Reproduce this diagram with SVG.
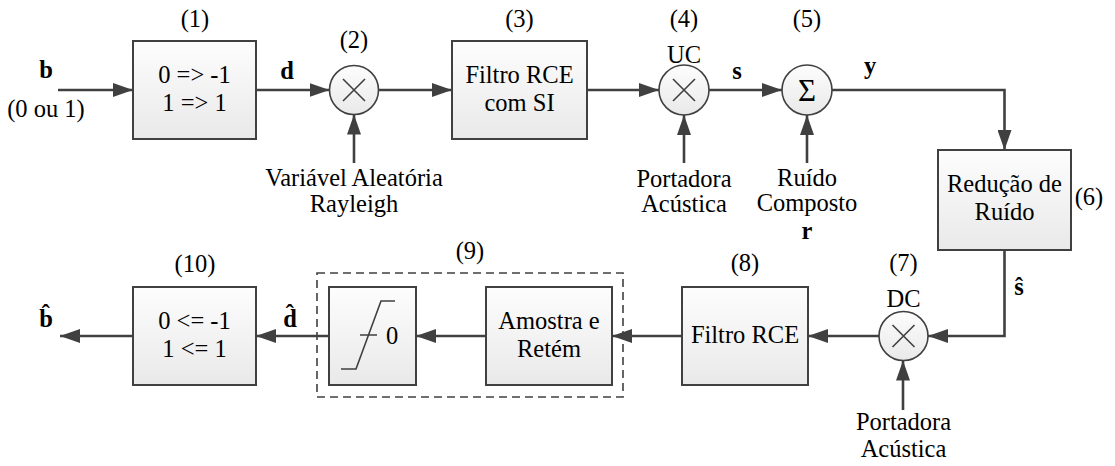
<svg xmlns="http://www.w3.org/2000/svg" width="1115" height="466" viewBox="0 0 1115 466">
<defs>
<linearGradient id="g" x1="0" y1="0" x2="0" y2="1">
<stop offset="0" stop-color="#fdfdfd"/>
<stop offset="1" stop-color="#e9e9e9"/>
</linearGradient>
<marker id="ah" markerUnits="userSpaceOnUse" markerWidth="20" markerHeight="14" refX="20" refY="7" orient="auto">
<path d="M0,0 L20,7 L0,14 z" fill="#404040"/>
</marker>
<style>
.box{fill:url(#g);stroke:#404040;stroke-width:2}
.circ{fill:url(#g);stroke:#404040;stroke-width:1.6}
.x{stroke:#404040;stroke-width:1.6;fill:none}
.c{fill:none;stroke:#404040;stroke-width:2.6;marker-end:url(#ah)}
text{font-family:'Liberation Serif','Times New Roman',serif;font-size:24.5px;fill:#000;text-anchor:middle}
text.b{font-weight:bold}
</style>
</defs>
<g id="connectors">
<path class="c" d="M58,90 H133"/>
<path class="c" d="M256,90 H329.5"/>
<path class="c" d="M378.5,90 H452"/>
<path class="c" d="M587,90 H659"/>
<path class="c" d="M709,90 H782"/>
<path class="c" d="M832,90 H1004.5 V150"/>
<path class="c" d="M354,163 V114.5"/>
<path class="c" d="M684,163 V115"/>
<path class="c" d="M807,163 V115"/>
<path class="c" d="M1004.5,250 V336 H928"/>
<path class="c" d="M879,336 H808"/>
<path class="c" d="M682,336 H612"/>
<path class="c" d="M486,336 H416"/>
<path class="c" d="M329,336 H256"/>
<path class="c" d="M133,336 H60"/>
<path class="c" d="M903,410 V360.5"/>
</g>

<g id="labels-signals">
<text class="b" x="46" y="78">b</text>
<text x="46" y="117">(0 ou 1)</text>
<text class="b" x="287" y="79">d</text>
<text class="b" x="737" y="79">s</text>
<text class="b" x="870" y="74">y</text>
<text class="b" x="1019" y="295">ŝ</text>
<text class="b" x="290" y="327">d̂</text>
<text class="b" x="46" y="327">b̂</text>
</g>

<g id="node1">
<rect class="box" x="133" y="41" width="123" height="98"/>
<text x="195" y="27">(1)</text>
<text x="194.5" y="83">0 =&gt; -1</text>
<text x="194.5" y="111">1 =&gt; 1</text>
</g>

<g id="node2">
<circle class="circ" cx="354" cy="90" r="24.5"/>
<path class="x" d="M343,79 L365,101 M365,79 L343,101"/>
<text x="354" y="48">(2)</text>
<text x="354" y="186">Variável Aleatória</text>
<text x="354" y="212">Rayleigh</text>
</g>

<g id="node3">
<rect class="box" x="452" y="41" width="135" height="98"/>
<text x="519.5" y="27">(3)</text>
<text x="519.5" y="83">Filtro RCE</text>
<text x="519.5" y="111">com SI</text>
</g>

<g id="node4">
<circle class="circ" cx="684" cy="90" r="25"/>
<path class="x" d="M673,79 L695,101 M695,79 L673,101"/>
<text x="684" y="27">(4)</text>
<text x="684" y="63">UC</text>
<text x="684" y="187">Portadora</text>
<text x="684" y="212">Acústica</text>
</g>

<g id="node5">
<circle class="circ" cx="807" cy="90" r="25"/>
<text x="807" y="101" style="font-size:31px">Σ</text>
<text x="807" y="27">(5)</text>
<text x="807" y="186">Ruído</text>
<text x="807" y="211">Composto</text>
<text class="b" x="807" y="239">r</text>
</g>

<g id="node6">
<rect class="box" x="938" y="150" width="133" height="100"/>
<text x="1004.5" y="192">Redução de</text>
<text x="1004.5" y="220">Ruído</text>
<text x="1089" y="205">(6)</text>
</g>

<g id="node7">
<circle class="circ" cx="903.5" cy="336" r="24.5"/>
<path class="x" d="M892.5,325 L914.5,347 M914.5,325 L892.5,347"/>
<text x="903.5" y="271">(7)</text>
<text x="903.5" y="307">DC</text>
<text x="903.5" y="430">Portadora</text>
<text x="903.5" y="457">Acústica</text>
</g>

<g id="node8">
<rect class="box" x="682" y="287" width="126" height="98"/>
<text x="745" y="271">(8)</text>
<text x="745" y="343">Filtro RCE</text>
</g>

<g id="node9">
<rect x="317" y="273" width="306" height="124" fill="none" stroke="#404040" stroke-width="1.6" stroke-dasharray="8,5"/>
<text x="470" y="259">(9)</text>
<rect class="box" x="329" y="287" width="87" height="98"/>
<path class="x" d="M341,369 H356 L381,301 H395 M360,335 H377"/>
<text x="386" y="344" style="text-anchor:start">0</text>
<rect class="box" x="486" y="287" width="126" height="98"/>
<text x="549" y="329">Amostra e</text>
<text x="549" y="357">Retém</text>
</g>

<g id="node10">
<rect class="box" x="133" y="287" width="123" height="98"/>
<text x="195" y="272">(10)</text>
<text x="194.5" y="329">0 &lt;= -1</text>
<text x="194.5" y="357">1 &lt;= 1</text>
</g>
</svg>
